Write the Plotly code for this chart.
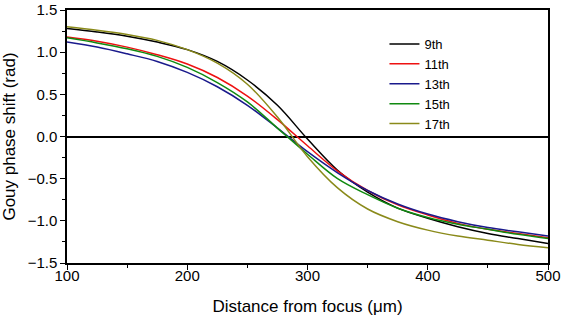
import plotly.graph_objects as go

distance = [100, 125, 150, 175, 200, 225, 250, 275, 300, 325, 350, 375, 400, 425, 450, 475, 500]

h9 = [1.28, 1.24, 1.19, 1.12, 1.03, 0.89, 0.67, 0.37, -0.03, -0.40, -0.66, -0.85, -0.97, -1.07, -1.15, -1.21, -1.27]
h11 = [1.18, 1.13, 1.06, 0.97, 0.86, 0.70, 0.48, 0.20, -0.11, -0.41, -0.64, -0.81, -0.93, -1.03, -1.10, -1.15, -1.20]
h13 = [1.12, 1.06, 0.98, 0.89, 0.76, 0.59, 0.37, 0.10, -0.18, -0.43, -0.64, -0.80, -0.92, -1.01, -1.08, -1.13, -1.18]
h15 = [1.17, 1.11, 1.04, 0.95, 0.82, 0.64, 0.41, 0.10, -0.21, -0.50, -0.69, -0.85, -0.96, -1.04, -1.10, -1.16, -1.21]
h17 = [1.30, 1.26, 1.21, 1.14, 1.03, 0.87, 0.62, 0.23, -0.24, -0.61, -0.86, -1.01, -1.11, -1.18, -1.23, -1.28, -1.32]

series_names = ["9th", "11th", "13th", "15th", "17th"]
series_values = [h9, h11, h13, h15, h17]
series_colors = ["#000000", "#ee1111", "#1a1a8c", "#108a10", "#8a8a1a"]

FONT = "Liberation Sans, Arial, sans-serif"

fig = go.Figure()
for name, vals, col in zip(series_names, series_values, series_colors):
    fig.add_trace(go.Scatter(
        x=distance, y=vals, mode="lines", name=name,
        line=dict(color=col, width=1.5, shape="spline", smoothing=1.0),
    ))

axis_common = dict(
    showline=True, linecolor="black", linewidth=1.5, mirror=True,
    ticks="outside", ticklen=5, tickwidth=1.2, tickcolor="black",
    showgrid=False, automargin=False, ticklabeloverflow="allow",
    tickfont=dict(family=FONT, size=15, color="black"),
    title_font=dict(family=FONT, size=17, color="black"),
)

fig.update_xaxes(
    range=[100, 500], dtick=100, tick0=100,
    minor=dict(ticks="outside", ticklen=3, dtick=50, tickcolor="black", tickwidth=1),
    title_text="Distance from focus (μm)", title_standoff=18,
    ticklabelstandoff=-7,
    zeroline=False, **axis_common,
)
fig.update_yaxes(
    range=[-1.5, 1.5], dtick=0.5, tick0=-1.5, tickformat=".1f",
    minor=dict(ticks="outside", ticklen=3, dtick=0.25, tickcolor="black", tickwidth=1),
    title_text="Gouy phase shift (rad)", title_standoff=13,
    zeroline=True, zerolinecolor="black", zerolinewidth=1.5,
    **axis_common,
)

fig.update_layout(
    width=562, height=316,
    margin=dict(l=67, r=14, t=10, b=53),
    paper_bgcolor="white", plot_bgcolor="white",
    font=dict(family=FONT, size=14, color="black"),
    legend=dict(
        x=0.66, y=0.925, xanchor="left", yanchor="top",
        bgcolor="rgba(0,0,0,0)", borderwidth=0,
        font=dict(family=FONT, size=13, color="black"),
        tracegroupgap=0, itemwidth=30,
    ),
    showlegend=True,
)

# remove the browser's default 8px page margin so the figure sits at (0, 0)
fig.write_html(
    "out.html",
    config={"displayModeBar": False},
    post_script="document.body.style.margin='0';",
)
